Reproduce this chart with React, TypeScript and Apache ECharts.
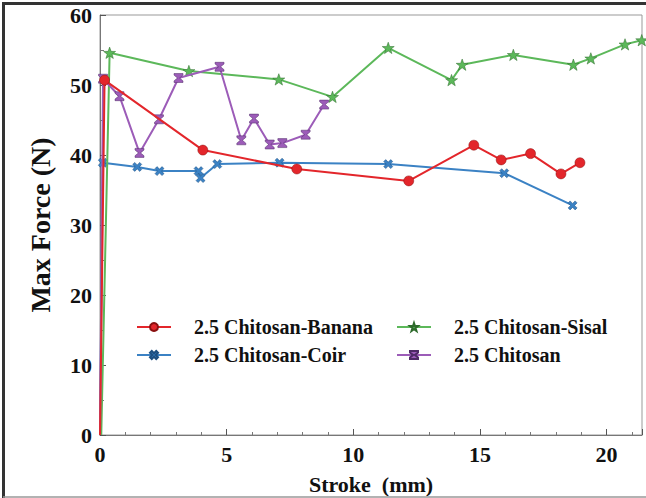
import React, { useEffect, useRef } from "react";
import * as echarts from "echarts";

const bananaX = [0, 0.18, 4.06, 7.77, 12.19, 14.76, 15.84, 17.0, 18.2, 18.95];
const bananaY = [0, 50.7, 40.7, 38.0, 36.3, 41.4, 39.3, 40.2, 37.3, 38.9];

const coirX = [0, 0.11, 1.47, 2.35, 3.89, 3.97, 4.63, 7.09, 11.38, 15.96, 18.66];
const coirY = [0, 38.9, 38.3, 37.7, 37.7, 36.7, 38.7, 38.9, 38.7, 37.4, 32.8];

const sisalX = [0.05, 0.38, 3.51, 7.06, 9.18, 11.38, 13.88, 14.3, 16.32, 18.69, 19.38, 20.73, 21.39];
const sisalY = [0, 54.6, 52.0, 50.8, 48.3, 55.3, 50.7, 52.9, 54.3, 52.9, 53.8, 55.8, 56.4];

const chitosanX = [0, 0.12, 0.77, 1.56, 2.33, 3.1, 4.72, 5.58, 6.08, 6.7, 7.2, 8.12, 8.85];
const chitosanY = [0, 50.9, 48.4, 40.3, 45.1, 51.0, 52.6, 42.1, 45.2, 41.5, 41.7, 42.9, 47.2];

const seriesNames = [
  "2.5 Chitosan-Banana",
  "2.5 Chitosan-Coir",
  "2.5 Chitosan-Sisal",
  "2.5 Chitosan",
];

const xTicks = [0, 5, 10, 15, 20];

const STAR =
  "path://M0,-10 L2.35,-3.24 L9.51,-3.09 L3.8,1.24 L5.88,8.09 L0,4 L-5.88,8.09 L-3.8,1.24 L-9.51,-3.09 L-2.35,-3.24 Z";
const HOURGLASS =
  "path://M0,0 L10,0 L10,1.8 L6.2,5 L10,8.2 L10,10 L0,10 L0,8.2 L3.8,5 L0,1.8 Z";
const XMARK =
  "path://M0,2.2 L2.2,0 L5,2.8 L7.8,0 L10,2.2 L7.2,5 L10,7.8 L7.8,10 L5,7.2 L2.2,10 L0,7.8 L2.8,5 Z";

function pairs(xs: number[], ys: number[]) {
  return xs.map((x, i) => {
    if (ys[i] === 0) return { value: [x, ys[i]], symbol: "none" };
    return { value: [x, ys[i]] };
  });
}

const FONT = "Liberation Serif";

export default function App() {
  const ref = useRef<HTMLDivElement>(null);
  useEffect(() => {
    if (!ref.current) return;
    const chart = echarts.init(ref.current, null, { renderer: "svg" });
    const colors = ["#e3262b", "#3b82c4", "#5cb85a", "#9c5cb8"];
    const borders = ["#8a1010", "#1d4f80", "#2d6a2b", "#4e2a66"];
    const symbols = ["circle", XMARK, STAR, HOURGLASS];
    const sizes = [10, 9, 12, 9];
    const zs = [9, 3, 4, 5];
    const datas = [
      pairs(bananaX, bananaY),
      pairs(coirX, coirY),
      pairs(sisalX, sisalY),
      pairs(chitosanX, chitosanY),
    ];
    const order = [1, 2, 3, 0];
    const series = order.map((i) => ({
      name: seriesNames[i],
      type: "line",
      data: datas[i],
      symbol: symbols[i],
      symbolSize: sizes[i],
      symbolKeepAspect: true,
      showAllSymbol: true,
      lineStyle: { color: colors[i], width: 2 },
      itemStyle: { color: colors[i], borderColor: borders[i], borderWidth: 0.5 },
      z: zs[i],
    }));
    const legendText = { fontFamily: FONT, fontWeight: "bold", fontSize: 20, color: "#111", padding: [0, 0, 0, 18] };
    chart.setOption({
      animation: false,
      backgroundColor: "#fff",
      grid: {
        left: 100,
        right: 4,
        top: 15,
        bottom: 63,
        show: true,
        borderColor: "#999",
        borderWidth: 1,
        containLabel: false,
        outerBoundsMode: "none",
      },
      legend: [
        {
          data: [seriesNames[0], seriesNames[1]],
          orient: "vertical",
          left: 131,
          top: 312,
          itemWidth: 34,
          itemHeight: 10,
          itemGap: 8,
          textStyle: legendText,
        },
        {
          data: [seriesNames[2], seriesNames[3]],
          orient: "vertical",
          left: 391,
          top: 312,
          itemWidth: 34,
          itemHeight: 10,
          itemGap: 8,
          textStyle: legendText,
        },
      ],
      xAxis: {
        type: "value",
        min: 0,
        max: 21.4,
        interval: 5,
        name: "Stroke  (mm)",
        nameLocation: "middle",
        nameGap: 38,
        nameTextStyle: { fontFamily: FONT, fontWeight: "bold", fontSize: 22, color: "#111" },
        axisLine: { show: true, lineStyle: { color: "#777", width: 1 } },
        axisTick: { show: true, inside: true, length: 6, lineStyle: { color: "#555" } },
        minorTick: { show: true, splitNumber: 5, length: 3, lineStyle: { color: "#777" } },
        splitLine: { show: false },
        axisLabel: {
          showMaxLabel: false,
          margin: 8,
          fontFamily: FONT,
          fontWeight: "bold",
          fontSize: 22,
          color: "#111",
          formatter: (v: number) => (xTicks.includes(v) ? String(v) : ""),
        },
      },
      yAxis: {
        type: "value",
        min: 0,
        max: 60,
        interval: 10,
        name: "Max Force (N)",
        nameLocation: "middle",
        nameGap: 46,
        nameTextStyle: { fontFamily: FONT, fontWeight: "bold", fontSize: 28, color: "#111" },
        axisLine: { show: true, lineStyle: { color: "#777", width: 1 } },
        axisTick: { show: true, inside: true, length: 6, lineStyle: { color: "#555" } },
        minorTick: { show: true, splitNumber: 2, length: 4, lineStyle: { color: "#777" } },
        splitLine: { show: false },
        axisLabel: { margin: 8, fontFamily: FONT, fontWeight: "bold", fontSize: 22, color: "#111" },
      },
      graphic: [
        {
          type: "polyline",
          shape: { points: [[3.5, 498], [3.5, 3.5], [646, 3.5]] },
          style: { fill: "none", stroke: "#333", lineWidth: 3 },
          z: 100,
        },
        {
          type: "line",
          shape: { x1: 3, y1: 497, x2: 646, y2: 497 },
          style: { stroke: "#999", lineWidth: 1.5 },
          z: 100,
        },
      ],
      series,
    });
    return () => chart.dispose();
  }, []);
  return (
    <div
      ref={ref}
      style={{ position: "fixed", left: 0, top: 0, width: 646, height: 498, background: "#fff" }}
    />
  );
}
